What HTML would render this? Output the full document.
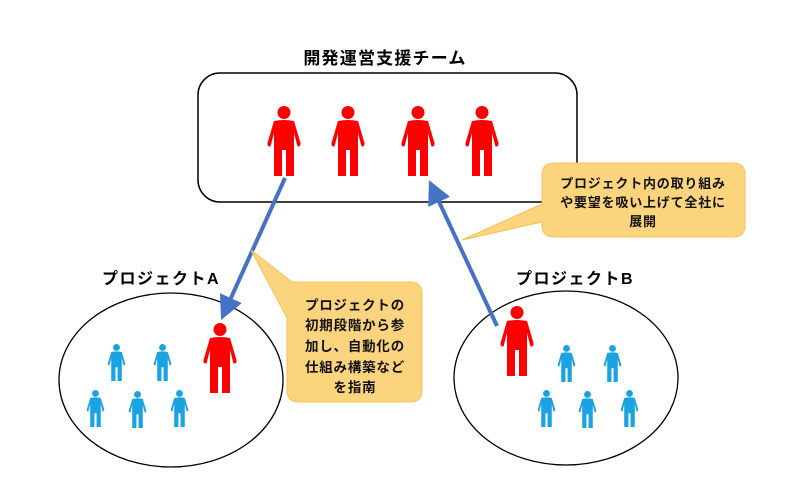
<!DOCTYPE html>
<html><head><meta charset="utf-8"><style>
html,body{margin:0;padding:0;background:#fff;}
svg text{font-family:"Liberation Sans","Noto Sans CJK JP",sans-serif;font-weight:bold;}
</style></head><body>
<svg width="800" height="492" viewBox="0 0 800 492" xmlns="http://www.w3.org/2000/svg">
<defs>
<symbol id="p" viewBox="0 0 36 70">
<circle cx="18" cy="6.5" r="6.5"/>
<path d="M8,15 Q18,13 28,15 L34.5,37 Q35,41 31.5,40.5 L28,27 L28,70 L20,70 L20,44 L16,44 L16,70 L8,70 L8,27 L4.5,40.5 Q1,41 1.5,37 Z"/>
</symbol>
<marker id="ah" markerWidth="6" markerHeight="6" refX="3" refY="3" orient="auto" markerUnits="strokeWidth"><path d="M0,0 L6,3 L0,6 Z" fill="#4472C4"/></marker>
</defs>
<text x="385" y="64" font-size="17" text-anchor="middle" fill="#000" letter-spacing="1.2">開発運営支援チーム</text>
<rect x="198" y="73" width="379" height="129" rx="22" fill="#fff" stroke="#000" stroke-width="1.5"/>
<g fill="#ff0000">
<use href="#p" x="266" y="106" width="36" height="70"/>
<use href="#p" x="330" y="106" width="36" height="70"/>
<use href="#p" x="400" y="106" width="36" height="70"/>
<use href="#p" x="464" y="106" width="36" height="70"/>
</g>
<ellipse cx="171" cy="380" rx="112" ry="87" fill="none" stroke="#000" stroke-width="1.3"/>
<ellipse cx="566" cy="378" rx="112" ry="87" fill="none" stroke="#000" stroke-width="1.3"/>
<text x="161" y="284" font-size="16" text-anchor="middle" letter-spacing="1.5">プロジェクトA</text>
<text x="575" y="284" font-size="16" text-anchor="middle" letter-spacing="1.5">プロジェクトB</text>
<g fill="#ff0000">
<use href="#p" x="202" y="323" width="36" height="70"/>
<use href="#p" x="499" y="306" width="36" height="70"/>
</g>
<g fill="#1aa3e0">
<use href="#p" x="107" y="344" width="19" height="37"/>
<use href="#p" x="153" y="344" width="19" height="37"/>
<use href="#p" x="86" y="390" width="19" height="37"/>
<use href="#p" x="128" y="391" width="19" height="37"/>
<use href="#p" x="170" y="390" width="19" height="37"/>
<use href="#p" x="557" y="345" width="19" height="37"/>
<use href="#p" x="603" y="345" width="19" height="37"/>
<use href="#p" x="537" y="390" width="19" height="37"/>
<use href="#p" x="578" y="391" width="19" height="37"/>
<use href="#p" x="620" y="390" width="19" height="37"/>
</g>
<line x1="285" y1="178" x2="226" y2="309" stroke="#4472C4" stroke-width="4" marker-end="url(#ah)"/>
<line x1="497" y1="326" x2="434" y2="191" stroke="#4472C4" stroke-width="4" marker-end="url(#ah)"/>
<path d="M297,282 H410 Q422,282 422,294 V390 Q422,402 410,402 H299 Q287,402 287,390 V318 L251,250 L292,282 Z" fill="#fdd47e" stroke="#f2c35a" stroke-width="1"/>
<g font-size="13.5" text-anchor="middle" fill="#111" letter-spacing="0.8">
<text x="355" y="310">プロジェクトの</text>
<text x="355" y="330">初期段階から参</text>
<text x="355" y="351">加し、自動化の</text>
<text x="355" y="372">仕組み構築など</text>
<text x="355" y="392">を指南</text>
</g>
<path d="M554,163 H733 Q745,163 745,175 V225 Q745,237 733,237 H554 Q542,237 542,225 V222 L462,240 L542,204 V175 Q542,163 554,163 Z" fill="#fdd47e" stroke="#f2c35a" stroke-width="1"/>
<g font-size="13" text-anchor="middle" fill="#111" letter-spacing="0.8">
<text x="643" y="188">プロジェクト内の取り組み</text>
<text x="643" y="207">や要望を吸い上げて全社に</text>
<text x="643" y="226">展開</text>
</g>
</svg>
</body></html>
